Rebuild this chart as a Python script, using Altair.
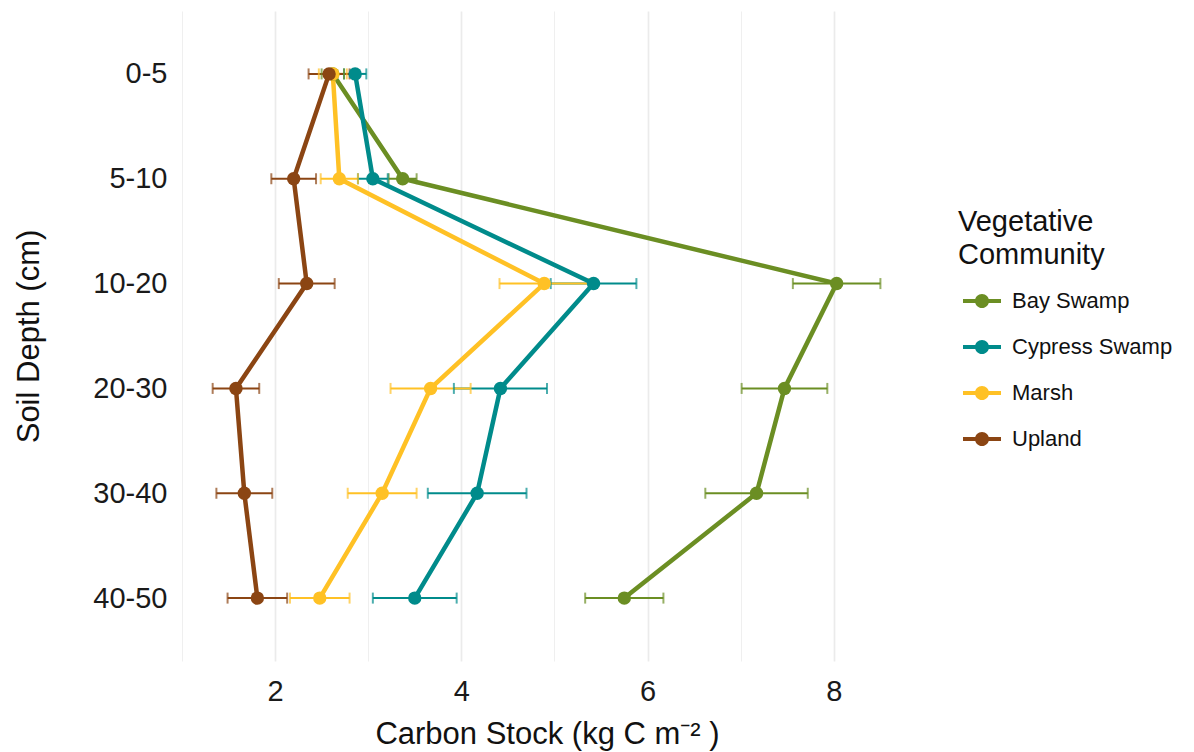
import altair as alt
import pandas as pd

# Soil depth intervals (top to bottom) and vegetative communities
depths = ["0-5", "5-10", "10-20", "20-30", "30-40", "40-50"]
communities = ["Bay Swamp", "Cypress Swamp", "Marsh", "Upland"]
palette = ["#6B8E23", "#008B8B", "#FFC125", "#8B4513"]

# Mean carbon stock (kg C m^-2) per depth interval
bay_swamp = [2.62, 3.37, 8.03, 7.47, 7.17, 5.75]
cypress_swamp = [2.86, 3.05, 5.42, 4.42, 4.17, 3.50]
marsh = [2.62, 2.69, 4.89, 3.67, 3.15, 2.48]
upland = [2.58, 2.20, 2.34, 1.58, 1.67, 1.81]

# Standard errors per depth interval
bay_swamp_se = [0.12, 0.15, 0.47, 0.46, 0.55, 0.42]
cypress_swamp_se = [0.12, 0.16, 0.46, 0.50, 0.53, 0.45]
marsh_se = [0.15, 0.20, 0.48, 0.43, 0.37, 0.32]
upland_se = [0.22, 0.24, 0.30, 0.25, 0.30, 0.32]

means = [bay_swamp, cypress_swamp, marsh, upland]
errors = [bay_swamp_se, cypress_swamp_se, marsh_se, upland_se]

rows = []
for name, m_list, e_list in zip(communities, means, errors):
    for i, (d, m, e) in enumerate(zip(depths, m_list, e_list)):
        rows.append({"community": name, "depth": d, "step": i,
                     "carbon": m, "lo": m - e, "hi": m + e})
df = pd.DataFrame(rows)

FONT = "Liberation Sans"

x_scale = alt.Scale(domain=[0.99, 8.85], nice=False, zero=False)
x_axis = alt.Axis(
    title="Carbon Stock (kg C m⁻² )",
    values=[1, 2, 3, 4, 5, 6, 7, 8],
    labelExpr="datum.value % 2 === 0 ? datum.label : ''",
    gridWidth={"condition": {"test": "datum.value % 2 === 0", "value": 1.7}, "value": 0.8},
    labelPadding=16,
    titlePadding=13,
)
y_enc = alt.Y(
    "depth:O",
    sort=depths,
    scale=alt.Scale(type="point", padding=0.6),
    axis=alt.Axis(title="Soil Depth (cm)", gridWidth=1.7, labelPadding=14, titlePadding=47),
)
color_scale = alt.Scale(domain=communities, range=palette)

# Legend glyph: a short thick line with a dot in the middle
legend_symbol = ("M-1,-0.11H1V0.11H-1Z "
                 "M0.37,0A0.37,0.37,0,1,1,-0.37,0A0.37,0.37,0,1,1,0.37,0Z")

legend = alt.Legend(
    title=["Vegetative", "Community"],
    orient="none",
    legendX=777,
    legendY=197,
    padding=0,
    titleFontSize=29,
    titleLineHeight=33,
    titleFontWeight="normal",
    titleColor="#111111",
    titlePadding=12,
    labelFontSize=22,
    labelColor="#111111",
    labelOffset=11,
    labelLimit=300,
    symbolType=legend_symbol,
    symbolSize=1444,
    symbolStrokeWidth=0,
    symbolOpacity=1,
    symbolOffset=5,
    rowPadding=16,
)
color_enc = alt.Color("community:N", scale=color_scale, legend=legend)

base = alt.Chart(df)

err_bars = base.mark_rule(strokeWidth=2).encode(
    x=alt.X("lo:Q", scale=x_scale, axis=x_axis),
    x2="hi:Q",
    y=y_enc,
    color=color_enc,
)
cap_lo = base.mark_tick(orient="vertical", size=11, thickness=2).encode(
    x=alt.X("lo:Q", scale=x_scale, axis=x_axis),
    y=y_enc,
    color=color_enc,
)
cap_hi = base.mark_tick(orient="vertical", size=11, thickness=2).encode(
    x=alt.X("hi:Q", scale=x_scale, axis=x_axis),
    y=y_enc,
    color=color_enc,
)
lines = base.mark_line(strokeWidth=4.5).encode(
    x=alt.X("carbon:Q", scale=x_scale, axis=x_axis),
    y=y_enc,
    color=color_enc,
    order=alt.Order("step:Q"),
)
points = base.mark_circle(size=180, opacity=1).encode(
    x=alt.X("carbon:Q", scale=x_scale, axis=x_axis),
    y=y_enc,
    color=color_enc,
)

chart = (
    alt.layer(err_bars, cap_lo, cap_hi, lines, points)
    .properties(
        width=732,
        height=650,
        padding={"left": 181, "top": 11, "right": 281, "bottom": 91},
        autosize=alt.AutoSizeParams(type="none"),
        background="white",
        view=alt.ViewBackground(stroke="transparent", strokeWidth=0),
    )
    .configure_view(stroke="transparent", strokeWidth=0)
    .configure(font=FONT)
    .configure_axis(
        domain=False,
        ticks=False,
        gridColor="#EBEBEB",
        labelFont=FONT,
        labelFontSize=29,
        labelColor="#1a1a1a",
        titleFont=FONT,
        titleFontSize=31,
        titleFontWeight="normal",
        titleColor="#111111",
    )
    .configure_legend(labelFont=FONT, titleFont=FONT)
)

chart.save("out.html", embed_options={"renderer": "svg", "actions": False})
